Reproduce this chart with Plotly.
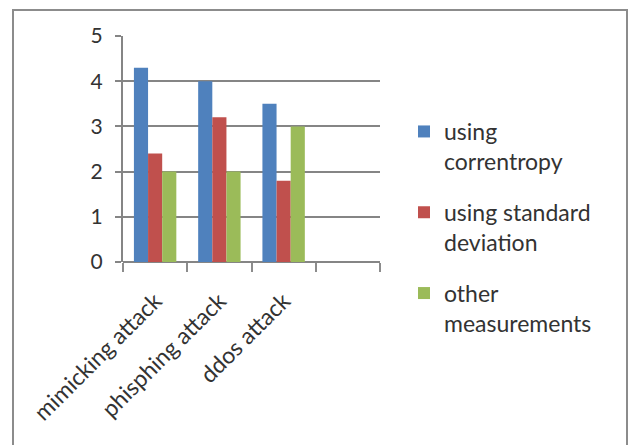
import plotly.graph_objects as go

categories = ["mimicking attack", "phisphing attack", "ddos attack", " "]
series_names = ["using<br>correntropy", "using standard<br>deviation", "other<br>measurements"]
correntropy = [4.3, 4.0, 3.5, None]
std_dev = [2.4, 3.2, 1.8, None]
other = [2.0, 2.0, 3.0, None]
colors = ["#4F81BD", "#C0504D", "#9BBB59"]

FONT = "Lato, 'Open Sans', sans-serif"

fig = go.Figure()
for i, (name, vals) in enumerate(zip(series_names, [correntropy, std_dev, other])):
    fig.add_trace(go.Bar(x=categories, y=vals, name=name, marker_color=colors[i],
                         marker_line_width=0, legendgroup=f"g{i}"))

W, H = 630, 445
L, R, T, B = 123, 380, 36, 262
pw, ph = R - L, B - T

def px(x):
    return (x - L) / pw

def py(y):
    return (B - y) / ph

fig.update_layout(
    width=W, height=H,
    margin=dict(l=L, r=W - R, t=T, b=H - B),
    paper_bgcolor="white", plot_bgcolor="white",
    barmode="group", bargap=0.34, bargroupgap=0,
    font=dict(family=FONT, size=22, color="#333333"),
    showlegend=True,
    legend=dict(x=px(404), y=py(110), xanchor="left", yanchor="top",
                font=dict(size=23, color="#333333"), valign="top",
                tracegroupgap=18, itemwidth=30, bgcolor="rgba(0,0,0,0)",
                maxheight=400),
    xaxis=dict(type="category", tickangle=-45, ticks="outside", tickson="boundaries",
               ticklen=9, tickwidth=2, tickcolor="#8c8c8c", showline=False,
               showgrid=False, tickfont=dict(size=23, color="#333333"),
               ticklabelstandoff=20,
               categoryorder="array", categoryarray=categories),
    yaxis=dict(range=[0, 5], dtick=1, showgrid=True, gridcolor="#858585", gridwidth=2,
               showline=True, linecolor="#858585", linewidth=2, ticks="outside",
               ticklen=6, tickwidth=2, tickcolor="#858585", zeroline=True,
               zerolinecolor="#858585", zerolinewidth=2, ticklabelstandoff=8,
               tickfont=dict(size=21, color="#333333")),
    shapes=[dict(type="rect", xref="paper", yref="paper",
                 x0=px(13), x1=px(627), y0=py(450), y1=py(10),
                 line=dict(color="#8c8c8c", width=2), layer="below")],
)

fig.write_html("out.html")
